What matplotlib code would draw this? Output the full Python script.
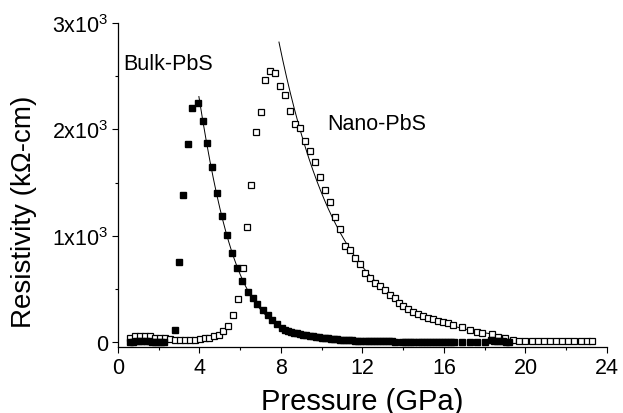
import matplotlib
matplotlib.use('Agg')
import matplotlib.pyplot as plt
import numpy as np
from matplotlib.ticker import MultipleLocator

plt.rcParams['font.family'] = ['Liberation Sans', 'DejaVu Sans']
plt.rcParams['mathtext.fontset'] = 'custom'
plt.rcParams['mathtext.rm'] = 'Liberation Sans'

# bulk PbS (filled squares), pressure in GPa, resistivity in kOhm-cm
bulk_p = [0.6, 0.75, 0.9, 1.05, 1.2, 1.35, 1.5, 1.65, 1.8, 1.95, 2.1, 2.25,
          2.8, 3.0, 3.2, 3.43, 3.65, 3.91,
          4.17, 4.37, 4.63, 4.88, 5.12, 5.35, 5.61, 5.82, 6.1, 6.36,
          6.61, 6.84, 7.1, 7.35, 7.57, 7.82,
          8.05, 8.2, 8.35, 8.5, 8.65, 8.8, 8.95, 9.1, 9.25, 9.4,
          9.55, 9.7, 9.85, 10.0, 10.15, 10.3, 10.45, 10.6, 10.75, 10.9,
          11.05, 11.2, 11.35, 11.5, 11.65, 11.8, 11.95, 12.1, 12.25, 12.4,
          12.55, 12.7, 12.85, 13.0, 13.15, 13.3, 13.45, 13.6,
          13.95, 14.1, 14.25, 14.4, 14.55, 14.7, 14.85, 15.0, 15.15, 15.3,
          15.45, 15.6, 15.75, 15.9, 16.05, 16.2, 16.35, 16.5,
          16.9, 17.3, 17.6, 18.0,
          18.3, 18.45, 18.6, 18.75, 18.9, 19.05, 19.2]
bulk_r = [3, 6, 8, 9, 9, 8, 7, 6, 5, 4, 3, 3,
          116, 750, 1383, 1865, 2197, 2251,
          2082, 1872, 1643, 1398, 1185, 1009, 843, 696, 577, 473,
          414, 357, 301, 254, 210, 169,
          130, 113, 105, 97, 90, 83, 77, 71, 65, 60,
          55, 50, 46, 42, 38, 35, 32, 29, 27, 25,
          23, 21, 19, 18, 16, 15, 14, 13, 12, 11,
          10, 9, 9, 8, 8, 7, 7, 6,
          6, 6, 6, 5, 5, 5, 5, 5, 5, 5,
          5, 5, 5, 5, 5, 5, 5, 5,
          5, 5, 5, 5,
          22, 16, 12, 10, 8, 6, 5]

# nano PbS (open squares)
nano_p = [0.59, 0.83, 1.08, 1.33, 1.57, 1.82, 2.06, 2.31, 2.55, 2.8, 3.05, 3.29, 3.54, 3.78,
          4.02, 4.27, 4.48, 4.71, 4.94, 5.17, 5.4, 5.63, 5.87, 6.12,
          6.33, 6.54, 6.76, 7.0, 7.22, 7.46, 7.71, 7.97, 8.21, 8.45,
          8.69, 8.93, 9.19, 9.42, 9.67, 9.91, 10.16, 10.4, 10.65, 10.9,
          11.14, 11.39, 11.63, 11.88, 12.12, 12.37, 12.62, 12.86, 13.1, 13.35,
          13.6, 13.8, 14.0, 14.25, 14.5, 14.74, 14.98, 15.23, 15.47, 15.72,
          15.96, 16.2, 16.46, 16.86, 17.27, 17.6, 17.85, 18.34, 18.66, 19.0,
          19.4, 19.7, 20.0, 20.3, 20.6, 20.9, 21.2, 21.5, 21.8, 22.1,
          22.4, 22.7, 23.0, 23.25]
nano_r = [38, 54, 59, 59, 54, 44, 40, 35, 28, 25, 25, 25, 25, 25,
          28, 38, 44, 54, 66, 103, 152, 252, 409, 693,
          1079, 1479, 1972, 2166, 2460, 2550, 2533, 2412, 2320, 2172,
          2050, 2010, 1887, 1793, 1693, 1555, 1430, 1320, 1176, 1060,
          906, 865, 796, 733, 655, 599, 560, 529, 492, 445,
          411, 373, 341, 310, 285, 263, 247, 230, 216, 200,
          190, 179, 163, 140, 115, 97, 86, 80, 50, 38,
          22, 15, 12, 10, 10, 9, 9, 8, 8, 8,
          8, 8, 8, 8]

x_ticks = [0, 4, 8, 12, 16, 20, 24]
y_ticks = [0, 1000, 2000, 3000]
y_labels = ['0', '1x10$^{\\mathregular{3}}$', '2x10$^{\\mathregular{3}}$', '3x10$^{\\mathregular{3}}$']

bulk_p = np.array(bulk_p)
bulk_r = np.array(bulk_r, dtype=float)
nano_p = np.array(nano_p)
nano_r = np.array(nano_r, dtype=float)


def decay_fit(p, r, lo, hi, deg, start, stop):
    # smooth decay fit done in log space on the falling side of the peak
    sel = (p >= lo) & (p <= hi)
    coef = np.polyfit(p[sel], np.log(r[sel]), deg)
    xs = np.linspace(start, stop, 300)
    return xs, np.exp(np.polyval(coef, xs))


fig = plt.figure(figsize=(6.23, 4.14), dpi=100)
ax = fig.add_axes([0.1894, 0.1594, 0.7849, 0.7826])

bx, by = decay_fit(bulk_p, bulk_r, 3.9, 11.0, 3, 3.97, 11.0)
nx, ny = decay_fit(nano_p, nano_r, 8.2, 18.4, 2, 7.9, 19.0)
ax.plot(bx, by, color='black', lw=0.7, zorder=1)
ax.plot(nx, ny, color='black', lw=0.7, zorder=1)

ax.plot(nano_p, nano_r, 's', ms=5, mfc='white', mec='black', mew=0.9, zorder=2)
ax.plot(bulk_p, bulk_r, 's', ms=5, color='black', zorder=3)

ax.text(0.25, 2615, 'Bulk-PbS', fontsize=15.5, va='center', ha='left')
ax.text(10.26, 2060, 'Nano-PbS', fontsize=15.5, va='center', ha='left')

ax.set_xlim(0, 24)
ax.set_ylim(-45, 3000)
ax.set_xticks(x_ticks)
ax.set_yticks(y_ticks)
ax.set_yticklabels(y_labels)
ax.xaxis.set_minor_locator(MultipleLocator(2))
ax.yaxis.set_minor_locator(MultipleLocator(500))
ax.tick_params(which='major', direction='out', length=4, width=0.8, labelsize=15.5, pad=3)
ax.tick_params(which='minor', direction='out', length=2.5, width=0.8)

for side in ['top', 'right']:
    ax.spines[side].set_visible(False)
for side in ['left', 'bottom']:
    ax.spines[side].set_linewidth(0.9)

ax.set_xlabel('Pressure (GPa)', fontsize=21)
ax.set_ylabel('Resistivity (kΩ-cm)', fontsize=20)
ax.xaxis.set_label_coords(0.5, -0.122)
ax.yaxis.set_label_coords(-0.166, 0.42)

fig.savefig('out.png', dpi=100)
